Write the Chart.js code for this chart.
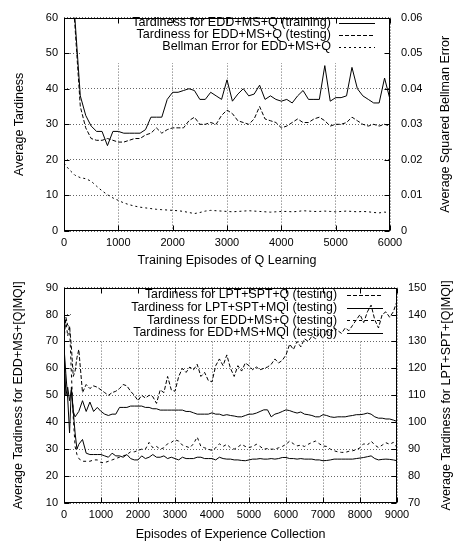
<!DOCTYPE html>
<html><head><meta charset="utf-8">
<script src="https://cdn.jsdelivr.net/npm/chart.js@4.4.0/dist/chart.umd.min.js"></script>
<style>
html,body{margin:0;padding:0;background:#fff;}
#c1{position:absolute;left:0;top:0;}
#c2{position:absolute;left:0;top:270px;}
</style></head><body>
<canvas id="c1" width="455" height="270"></canvas>
<canvas id="c2" width="455" height="275"></canvas>
<script>
// ---------- Top chart data ----------
const topEpisodes = [
  0,100,200,300,400,500,600,700,800,900,
  1000,1100,1200,1300,1400,1500,1600,1700,1800,1900,
  2000,2100,2200,2300,2400,2500,2600,2700,2800,2900,
  3000,3100,3200,3300,3400,3500,3600,3700,3800,3900,
  4000,4100,4200,4300,4400,4500,4600,4700,4800,4900,
  5000,5100,5200,5300,5400,5500,5600,5700,5800,5900,
  6000];
const trainingTardiness = [
  95,78,60,38,32.5,29.5,28,28,24,28,
  28,27.5,27.5,27.5,27.5,28.5,32,32,32,37,
  39,39,39.5,40,39.5,37,37,39,38,37,
  42.5,36.5,38.5,40,38,38.5,41,37,38,37,
  36.5,37,36,38,39.5,37,37,37,46.5,36.5,
  37.5,37.5,38,46,40,38,37,36,36,43,
  37];
const testingTardiness = [
  95,78,58,35,29,26,25.5,25.5,26,25.5,
  25,25,25.5,26,26,27,27.5,29,27.5,28.5,
  29,29,29,31,32,30,30,30.5,30,32.5,
  34,33,31,30.5,30,31.5,35,31.5,31,30.5,
  29,29.5,30.5,31.5,30.5,30.5,31.5,32,31,29.5,
  30,30,30.5,32,31,30,29.5,30,29.5,30,
  29.5];
const bellmanError = [
  0.019,0.0172,0.0157,0.015,0.0147,0.014,0.0126,0.0113,0.0102,0.0093,
  0.0086,0.0079,0.0074,0.007,0.0067,0.0065,0.0063,0.0061,0.006,0.0059,
  0.0058,0.0057,0.0055,0.0052,0.0049,0.0052,0.0056,0.0058,0.0057,0.0056,
  0.0055,0.0054,0.0055,0.0056,0.0057,0.0056,0.0055,0.0054,0.0053,0.0054,
  0.0055,0.0055,0.0054,0.0055,0.0057,0.0056,0.0055,0.0055,0.0056,0.0055,
  0.0054,0.0055,0.0056,0.0055,0.0054,0.0055,0.0054,0.0052,0.0051,0.0053,
  0.0052];
const topLabels = ['Tardiness for EDD+MS+Q (training)','Tardiness for EDD+MS+Q (testing)','Bellman Error for EDD+MS+Q'];

// ---------- Bottom chart data ----------
const botEpisodes = [
  0,50,100,150,200,250,300,350,400,
  500,600,700,800,900,1000,1100,1200,1300,1400,
  1500,1600,1700,1800,1900,2000,2100,2200,2300,2400,
  2500,2600,2700,2800,2900,3000,3100,3200,3300,3400,
  3500,3600,3700,3800,3900,4000,4100,4200,4300,4400,
  4500,4600,4700,4800,4900,5000,5100,5200,5300,5400,
  5500,5600,5700,5800,5900,6000,6100,6200,6300,6400,
  6500,6600,6700,6800,6900,7000,7100,7200,7300,7400,
  7500,7600,7700,7800,7900,8000,8100,8200,8300,8400,
  8500,8600,8700,8800,8900,9000];
const lptSptQ = [
  130,139,136,135.5,128,117,119,124,127,
  111,114,112.5,113.5,113,112,111,110,111,111.5,
  112.5,114,113.5,111.5,110,108,110,109,110,109.5,
  107,112,111,117,112,111.5,117,120,118.5,120.5,
  119.5,121.5,117,118.5,115.5,115,121,123.5,121,125,
  120,117,121,119,122,121,119.5,120.5,119.5,120,
  120.5,121.5,123.5,122,123,125,129,127,130,128,
  131,130,132,131,133,131,134,133,135,134,
  133,135,134,136,138,140,137,141,143.5,138,
  135,140,141,139,141,145];
const lptSptMqi = [
  128,118,109,96,113,104,102,103,104,
  108,104,107.5,104,105.5,104,103,102.5,103,103,
  105.5,105.5,105.5,106,106,106,106,105.5,105.5,105,
  105,104.5,104.5,104.5,104.5,104.5,104.5,104.5,104,104,
  103.5,103,103,103,103,103.5,103,103,102.5,102.8,
  102.5,102.3,102,102,102.5,103,103,103.4,104,104.6,
  104.6,102,103,103.4,104,104.6,104.3,103.8,103.4,103.8,
  103,102.8,102.5,102,102,102.8,102.5,102,101.8,102,
  102,102,102.3,102.5,102.8,102.8,103,103.4,103,102,
  101.5,101.5,101.2,101.2,100.8,100.3];
const eddMsQ = [
  73,78,72,76,58,42,31,28,26.5,
  25.5,25.5,25.5,26,26,25,25,25.5,26,26.5,
  27,27.5,28,29,29,29.5,30,30,32.5,30.5,
  31,30,30.5,32,32.5,33.5,33,31.5,31,30.5,
  32,34.5,31,30.5,30,29.5,30.5,32,31,31.8,
  30.5,30,30.8,31.8,31,30.6,31,31.8,31,30,
  30.2,30,30,30.5,31,31.8,33,32,31.2,31.5,
  31,31.8,32.5,33,32,31.2,31,30,29.4,29,
  28.8,28.8,29.2,29.4,29.8,30.5,32,31.5,33,31.5,
  30.6,31.5,32.4,31.8,32.5,30.6];
const eddMsMqi = [
  68,50,53,48,52,44,36,30,31.8,
  33.6,28.5,28,28,28,28,27.5,27,28.5,27.5,
  27.5,27,28,26.5,26,26,27.5,26.5,27,28,
  27,27,27.5,26.5,27,26.5,26,27,26.5,26.5,
  26.5,27,27,26.5,26.5,26.5,26,27,26.5,26.3,
  26.3,26,26,25.8,25.7,26,26.3,26.3,26.5,26.3,
  26.3,26.5,26.3,26.5,26.9,26.9,26.5,26.5,26.3,26.5,
  26.3,26.3,26.3,26,26,25.7,25.8,26,26.3,26.3,
  26.3,26.3,26.3,26.3,26.5,26.7,26.9,27.2,27.5,26.5,
  26,26.2,26.3,26.2,26,25.7];
const botLabels = ['Tardiness for LPT+SPT+Q (testing)','Tardiness for LPT+SPT+MQI (testing)','Tardiness for EDD+MS+Q (testing)','Tardiness for EDD+MS+MQI (testing)'];

// ---------- helpers ----------
const FONT = '"Liberation Sans", Arial, Helvetica, sans-serif';
const pts = (xs, ys) => xs.map((x, i) => ({x: x, y: ys[i]}));

function ds(label, xs, ys, dash, axis) {
  return {label, data: pts(xs, ys), borderColor: '#000', borderWidth: 1, borderDash: dash,
    pointRadius: 0, tension: 0, fill: false, yAxisID: axis, clip: 0};
}

function decorPlugin(cfg) {
  return {
    id: 'decor',
    beforeDatasetsDraw(chart) {
      const ctx = chart.ctx, a = chart.chartArea;
      ctx.save();
      ctx.fillStyle = '#fff';
      ctx.fillRect(cfg.blankX0, a.top + 1, a.right - cfg.blankX0 - 1, cfg.blankY1 - a.top);
      ctx.font = cfg.legendFont + 'px ' + FONT;
      ctx.textAlign = 'right';
      ctx.textBaseline = 'middle';
      ctx.fillStyle = '#000';
      chart.data.datasets.forEach((d, i) => {
        const y = cfg.legendY0 + i * cfg.legendDy;
        ctx.fillText(d.label, cfg.textRight, y);
        ctx.beginPath();
        ctx.setLineDash(d.borderDash || []);
        ctx.lineWidth = 1;
        ctx.strokeStyle = '#000';
        ctx.moveTo(cfg.lineX0, Math.round(y) + 0.5);
        ctx.lineTo(cfg.lineX1, Math.round(y) + 0.5);
        ctx.stroke();
      });
      ctx.restore();
    },
    afterDraw(chart) {
      const ctx = chart.ctx, a = chart.chartArea;
      const L = Math.round(a.left) + 0.5, R = Math.round(a.right) - 0.5;
      const T = Math.round(a.top) + 0.5, B = Math.round(a.bottom) - 0.5;
      ctx.save();
      ctx.setLineDash([]);
      ctx.strokeStyle = '#000';
      ctx.lineWidth = 1;
      ctx.strokeRect(L, T, R - L, B - T);
      const tl = 5;
      ctx.beginPath();
      const xs = chart.scales.x, yl = chart.scales.y, yr = chart.scales.y2;
      xs.ticks.forEach(t => {
        const px = Math.round(xs.getPixelForValue(t.value)) + 0.5;
        ctx.moveTo(px, B); ctx.lineTo(px, B - tl);
        ctx.moveTo(px, T); ctx.lineTo(px, T + tl);
      });
      yl.ticks.forEach(t => {
        const py = Math.round(yl.getPixelForValue(t.value)) + 0.5;
        ctx.moveTo(L, py); ctx.lineTo(L + tl, py);
      });
      yr.ticks.forEach(t => {
        const py = Math.round(yr.getPixelForValue(t.value)) + 0.5;
        ctx.moveTo(R, py); ctx.lineTo(R - tl, py);
      });
      ctx.stroke();
      // titles
      ctx.fillStyle = '#000';
      ctx.font = cfg.titleFont + 'px ' + FONT;
      ctx.textAlign = 'center';
      ctx.textBaseline = 'middle';
      ctx.fillText(cfg.xTitle, (a.left + a.right) / 2, cfg.xTitleY);
      const cy = (a.top + a.bottom) / 2;
      ctx.save();
      ctx.translate(cfg.yTitleX, cy);
      ctx.rotate(-Math.PI / 2);
      ctx.fillText(cfg.yTitle, 0, 0);
      ctx.restore();
      ctx.save();
      ctx.translate(cfg.y2TitleX, cy);
      ctx.rotate(-Math.PI / 2);
      ctx.fillText(cfg.y2Title, 0, 0);
      ctx.restore();
      ctx.restore();
    }
  };
}

function scales(xmax, ymin, ymax, y2min, y2max, y2step, y2fmt, leftW, rightW, xH) {
  const tickFont = {family: FONT, size: 11};
  return {
    x: {type: 'linear', min: 0, max: xmax,
      ticks: {stepSize: 1000, autoSkip: false, maxRotation: 0, color: '#000', font: tickFont, padding: 5,
        callback: v => String(v)},
      grid: {color: '#666', drawTicks: false, lineWidth: 1},
      border: {display: false, dash: [1, 2]},
      afterFit: s => { s.height = xH; }},
    y: {type: 'linear', position: 'left', min: ymin, max: ymax,
      ticks: {stepSize: 10, color: '#000', font: tickFont, padding: 6, callback: v => String(v)},
      grid: {color: '#666', drawTicks: false, lineWidth: 1},
      border: {display: false, dash: [1, 2]},
      afterFit: s => { s.width = leftW; }},
    y2: {type: 'linear', position: 'right', min: y2min, max: y2max,
      ticks: {stepSize: y2step, color: '#000', font: tickFont, padding: 11, callback: y2fmt},
      grid: {drawOnChartArea: false, drawTicks: false},
      border: {display: false},
      afterFit: s => { s.width = rightW; }}
  };
}

// ---------- Top chart ----------
new Chart(document.getElementById('c1'), {
  type: 'line',
  data: {datasets: [
    ds(topLabels[0], topEpisodes, trainingTardiness, [], 'y'),
    ds(topLabels[1], topEpisodes, testingTardiness, [4, 2], 'y'),
    ds(topLabels[2], topEpisodes, bellmanError, [2, 3], 'y2')
  ]},
  options: {
    responsive: false, animation: false, events: [],
    layout: {padding: {top: 12, left: 0, right: 0, bottom: 0}},
    plugins: {legend: {display: false}, tooltip: {enabled: false}},
    scales: scales(6000, 0, 60, 0, 0.06, 0.01, v => (v === 0 ? '0' : v.toFixed(2)), 64, 65, 39)
  },
  plugins: [decorPlugin({
    blankX0: 80, blankY1: 62,
    legendY0: 23, legendDy: 12, textRight: 331, lineX0: 339, lineX1: 375, legendFont: 12.6,
    titleFont: 12.5,
    xTitle: 'Training Episodes of Q Learning', xTitleY: 261,
    yTitle: 'Average Tardiness', yTitleX: 20,
    y2Title: 'Average Squared Bellman Error', y2TitleX: 446
  })]
});

// ---------- Bottom chart ----------
new Chart(document.getElementById('c2'), {
  type: 'line',
  data: {datasets: [
    ds(botLabels[0], botEpisodes, lptSptQ, [4, 2], 'y2'),
    ds(botLabels[1], botEpisodes, lptSptMqi, [], 'y2'),
    ds(botLabels[2], botEpisodes, eddMsQ, [3, 3], 'y'),
    ds(botLabels[3], botEpisodes, eddMsMqi, [], 'y')
  ]},
  options: {
    responsive: false, animation: false, events: [],
    layout: {padding: {top: 14, left: 0, right: 0, bottom: 0}},
    plugins: {legend: {display: false}, tooltip: {enabled: false}},
    scales: scales(9000, 10, 90, 70, 150, 10, v => String(v), 64, 58, 42)
  },
  plugins: [decorPlugin({
    blankX0: 72, blankY1: 70,
    legendY0: 25, legendDy: 12.7, textRight: 337, lineX0: 347, lineX1: 383, legendFont: 12.3,
    titleFont: 12.5,
    xTitle: 'Episodes of Experience Collection', xTitleY: 265,
    yTitle: 'Average Tardiness for EDD+MS+[Q|MQI]', yTitleX: 19,
    y2Title: 'Average Tardiness for LPT+SPT+[Q|MQI]', y2TitleX: 447
  })]
});
</script>
</body></html>
